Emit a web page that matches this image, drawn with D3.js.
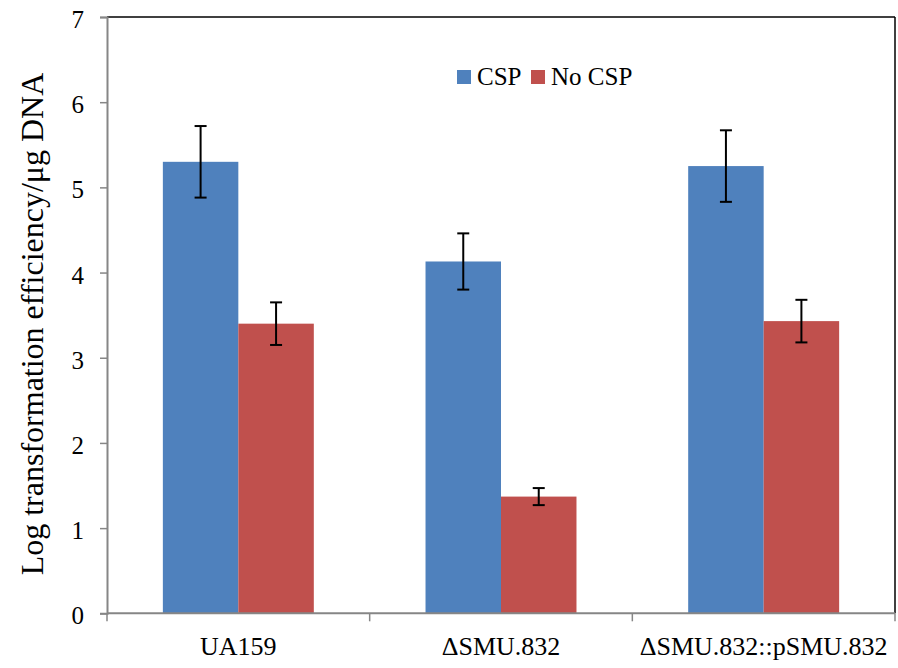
<!DOCTYPE html>
<html>
<head>
<meta charset="utf-8">
<script src="https://cdn.jsdelivr.net/npm/d3@7/dist/d3.min.js"></script>
<style>
  html, body { margin: 0; padding: 0; background: #fff; }
</style>
</head>
<body>
<svg id="chart" width="898" height="668"></svg>
<script>
// Strains and the two treatment series
const strains = ["UA159", "\u0394SMU.832", "\u0394SMU.832::pSMU.832"];
const seriesNames = ["CSP", "No CSP"];
const cspMean = [5.30, 4.13, 5.25];
const cspErr = [0.42, 0.33, 0.42];
const noCspMean = [3.40, 1.37, 3.43];
const noCspErr = [0.25, 0.10, 0.25];
const yTicks = [0, 1, 2, 3, 4, 5, 6, 7];
const colors = ["#4F81BD", "#C0504D"];

const FONT = "'Liberation Serif', 'Times New Roman', Times, serif";

const svg = d3.select("#chart");
const margin = { left: 107, right: 3, top: 17, bottom: 55 };
const W = 898, H = 668;
const x0 = margin.left, x1 = W - margin.right;
const yTop = margin.top, yBot = H - margin.bottom + 0.3;

const x = d3.scaleBand().domain(strains).range([x0, x1]).paddingInner(0).paddingOuter(0);
const xs = d3.scaleBand().domain(seriesNames).range([0, x.bandwidth()]).paddingInner(0).paddingOuter(0.74);
const y = d3.scaleLinear().domain([0, 7]).range([yBot, yTop]);

const rows = [];
strains.forEach((s, i) => {
  rows.push({ strain: s, series: seriesNames[0], v: cspMean[i], e: cspErr[i], c: colors[0] });
  rows.push({ strain: s, series: seriesNames[1], v: noCspMean[i], e: noCspErr[i], c: colors[1] });
});

// Bars
svg.append("g").selectAll("rect").data(rows).join("rect")
  .attr("x", d => x(d.strain) + xs(d.series))
  .attr("width", xs.bandwidth())
  .attr("y", d => y(d.v))
  .attr("height", d => y(0) - y(d.v))
  .attr("fill", d => d.c);

// Error bars
const eb = svg.append("g").attr("stroke", "#000").attr("stroke-width", 2);
rows.forEach(d => {
  const cx = x(d.strain) + xs(d.series) + xs.bandwidth() / 2;
  eb.append("line").attr("x1", cx).attr("x2", cx).attr("y1", y(d.v + d.e)).attr("y2", y(d.v - d.e));
  eb.append("line").attr("x1", cx - 6).attr("x2", cx + 6).attr("y1", y(d.v + d.e)).attr("y2", y(d.v + d.e));
  eb.append("line").attr("x1", cx - 6).attr("x2", cx + 6).attr("y1", y(d.v - d.e)).attr("y2", y(d.v - d.e));
});

// Plot frame: black top and right edges
svg.append("line").attr("x1", x0).attr("x2", x1).attr("y1", yTop).attr("y2", yTop)
  .attr("stroke", "#000").attr("stroke-width", 1.5);
svg.append("line").attr("x1", x1).attr("x2", x1).attr("y1", yTop).attr("y2", yBot)
  .attr("stroke", "#000").attr("stroke-width", 1.5);

// Y axis
const yAxis = svg.append("g").attr("transform", `translate(${x0},0)`)
  .call(d3.axisLeft(y).tickValues(yTicks).tickFormat(d3.format("d")).tickSizeOuter(0).tickSize(7).tickPadding(16));
yAxis.attr("font-family", FONT);
yAxis.select(".domain").attr("stroke", "#868686").attr("stroke-width", 2);
yAxis.selectAll(".tick line").attr("stroke", "#868686").attr("stroke-width", 1.5);
yAxis.selectAll(".tick text").attr("font-size", 25).attr("font-family", FONT).attr("fill", "#000").attr("dy", "0.42em");

// X axis: ticks at category boundaries
const xAxisG = svg.append("g");
xAxisG.append("line").attr("x1", x0).attr("x2", x1).attr("y1", yBot).attr("y2", yBot)
  .attr("stroke", "#868686").attr("stroke-width", 2);
const bounds = strains.map(s => x(s)).concat([x1]);
xAxisG.selectAll("line.tk").data(bounds).join("line").attr("class", "tk")
  .attr("x1", d => d).attr("x2", d => d).attr("y1", yBot).attr("y2", yBot + 8)
  .attr("stroke", "#868686").attr("stroke-width", 1.5);
xAxisG.selectAll("text").data(strains).join("text")
  .attr("x", d => x(d) + x.bandwidth() / 2)
  .attr("y", yBot + 42)
  .attr("text-anchor", "middle")
  .attr("font-family", FONT)
  .attr("font-size", 26)
  .attr("fill", "#000")
  .text(d => d);

// Y axis title
svg.append("text")
  .attr("transform", "translate(43,324) rotate(-90)")
  .attr("text-anchor", "middle")
  .attr("font-family", FONT)
  .attr("font-size", 32)
  .attr("fill", "#000")
  .text("Log transformation efficiency/\u03bcg DNA");

// Legend
const legend = svg.append("g").attr("transform", "translate(457,70)");
const lx = [0, 74];
seriesNames.forEach((n, i) => {
  legend.append("rect").attr("x", lx[i]).attr("y", 0).attr("width", 14).attr("height", 14).attr("fill", colors[i]);
  legend.append("text").attr("x", lx[i] + 20).attr("y", 14.5)
    .attr("font-family", FONT).attr("font-size", 25).attr("fill", "#000").text(n);
});
</script>
</body>
</html>
